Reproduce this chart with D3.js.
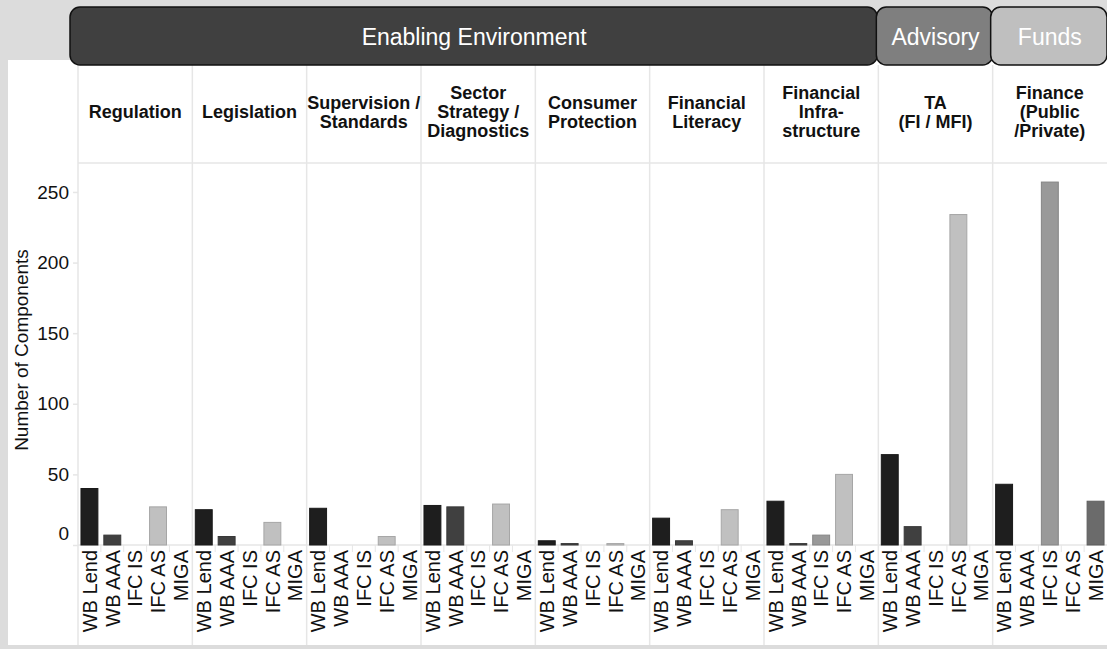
<!DOCTYPE html>
<html>
<head>
<meta charset="utf-8">
<script src="https://cdn.jsdelivr.net/npm/d3@7"></script>
<style>
	body { margin: 0; background: #dcdcdc; }
	svg { display: block; font-family: Arial, "Liberation Sans", sans-serif; }
</style>
</head>
<body>
<div id="chart"></div>
<script>
// Data

var groups = ['Enabling Environment', 'Advisory', 'Funds'];
var groupSpans = [7, 1, 1];
var panels = [
	['Regulation'],
	['Legislation'],
	['Supervision /', 'Standards'],
	['Sector', 'Strategy /', 'Diagnostics'],
	['Consumer', 'Protection'],
	['Financial', 'Literacy'],
	['Financial', 'Infra-', 'structure'],
	['TA', '(FI / MFI)'],
	['Finance', '(Public', '/Private)']
];
var instruments = ['WB Lend', 'WB AAA', 'IFC IS', 'IFC AS', 'MIGA'];
var wbLend = [40, 25, 26, 28, 3, 19, 31, 64, 43];
var wbAAA = [7, 6, 0, 27, 1, 3, 1, 13, 0];
var ifcIS = [0, 0, 0, 0, 0, 0, 7, 0, 257];
var ifcAS = [27, 16, 6, 29, 1, 25, 50, 234, 0];
var miga = [0, 0, 0, 0, 0, 0, 0, 0, 31];
var yTicks = [0, 50, 100, 150, 200, 250];

// Config

var width = 1107, height = 649;
var plotLeft = 78, plotRight = 1107;
var headTop = 65, plotTop = 163, plotBottom = 545, pageBottom = 645;
var groupFills = ['#404040', '#7f7f7f', '#bfbfbf'];
var barFills = ['#1e1e1e', '#404040', '#999999', '#c0c0c0', '#6b6b6b'];
var gridColor = '#e6e6e6';

// Setup

var seriesValues = [wbLend, wbAAA, ifcIS, ifcAS, miga];
var bars = [];
panels.forEach((p, pi) => {
	instruments.forEach((inst, ii) => {
		bars.push({ panel: pi, inst: inst, index: ii, value: seriesValues[ii][pi] });
	});
});

var svg = d3.select('#chart').append('svg')
	.attr('width', width)
	.attr('height', height);

svg.append('rect')
	.attr('x', 8).attr('y', 60)
	.attr('width', width - 8).attr('height', pageBottom - 60)
	.attr('fill', '#fff');

var xPanel = d3.scaleBand()
	.domain(d3.range(panels.length))
	.range([plotLeft, plotRight]);
var xInst = d3.scaleBand()
	.domain(instruments)
	.range([0, xPanel.bandwidth()])
	.paddingInner(0.26)
	.paddingOuter(0.13);
var y = d3.scaleLinear()
	.domain([0, 270.5])
	.range([plotBottom, plotTop]);

// Grid lines

var grid = svg.append('g').attr('stroke', gridColor).attr('stroke-width', 1.5);
grid.selectAll('.vline')
	.data(d3.range(panels.length))
	.enter().append('line')
		.attr('x1', d => xPanel(d)).attr('x2', d => xPanel(d))
		.attr('y1', headTop).attr('y2', pageBottom);
grid.append('line')
	.attr('x1', plotLeft).attr('x2', plotRight)
	.attr('y1', plotTop).attr('y2', plotTop);
grid.append('line')
	.attr('x1', plotLeft).attr('x2', plotRight)
	.attr('y1', y(0)).attr('y2', y(0));

// short dividers between instrument labels
grid.selectAll('.ldiv')
	.data(bars.filter(d => d.index > 0))
	.enter().append('line')
		.attr('stroke-width', 1)
		.attr('x1', d => xPanel(d.panel) + xInst(d.inst) - xInst.step() * xInst.paddingInner() / 2)
		.attr('x2', d => xPanel(d.panel) + xInst(d.inst) - xInst.step() * xInst.paddingInner() / 2)
		.attr('y1', y(0)).attr('y2', y(0) + 7);

// Group header boxes

var groupStarts = groupSpans.map((s, i) => d3.sum(groupSpans.slice(0, i)));
var gHead = svg.append('g');
var heads = gHead.selectAll('.group-head')
	.data(groups)
	.enter().append('g')
		.attr('class', 'group-head');
heads.append('rect')
	.attr('x', (d, i) => xPanel(groupStarts[i]) - (i === 0 ? 8 : 2))
	.attr('y', 7)
	.attr('width', (d, i) => xPanel.step() * groupSpans[i] + (i === 0 ? 7 : 2))
	.attr('height', 58)
	.attr('rx', 10)
	.attr('fill', (d, i) => groupFills[i])
	.attr('stroke', '#111')
	.attr('stroke-width', 1.5);
heads.append('text')
	.attr('x', (d, i) => xPanel(groupStarts[i]) + xPanel.step() * groupSpans[i] / 2 - (i === 0 ? 4 : 0))
	.attr('y', 37)
	.attr('dy', '0.35em')
	.attr('text-anchor', 'middle')
	.attr('fill', '#fff')
	.attr('font-size', 23)
	.text(d => d);

// Panel headers

var pHead = svg.append('g')
	.attr('font-size', 18)
	.attr('font-weight', 'bold')
	.attr('fill', '#111')
	.attr('text-anchor', 'middle');
pHead.selectAll('text')
	.data(panels)
	.enter().append('text')
		.attr('x', (d, i) => xPanel(i) + xPanel.bandwidth() / 2)
		.attr('y', d => 112 - (d.length - 1) * 19 / 2)
		.each(function(lines) {
			d3.select(this).selectAll('tspan')
				.data(lines)
				.enter().append('tspan')
					.attr('x', d3.select(this).attr('x'))
					.attr('dy', (l, li) => li === 0 ? '0.35em' : 19)
					.text(l => l);
		});

// Y axis

var yAxis = svg.append('g')
	.attr('transform', `translate(${plotLeft},0)`)
	.call(d3.axisLeft(y).tickValues(yTicks).tickSize(5).tickPadding(4));
yAxis.select('.domain').remove();
yAxis.selectAll('.tick line').attr('stroke', gridColor).attr('stroke-width', 1.5);
yAxis.selectAll('.tick text')
	.attr('font-size', 19)
	.attr('font-family', 'Arial, "Liberation Sans", sans-serif')
	.attr('fill', '#111')
	.attr('dy', d => d === 0 ? '-0.3em' : '0.32em');

svg.append('text')
	.attr('transform', `translate(28, 350) rotate(-90)`)
	.attr('text-anchor', 'middle')
	.attr('font-size', 19)
	.attr('fill', '#111')
	.text('Number of Components');

// Bars

svg.append('g').selectAll('rect')
	.data(bars)
	.enter().append('rect')
		.attr('x', d => xPanel(d.panel) + xInst(d.inst))
		.attr('y', d => y(d.value))
		.attr('width', xInst.bandwidth())
		.attr('height', d => y(0) - y(d.value))
		.attr('fill', d => barFills[d.index])
		.attr('stroke', d => d3.color(barFills[d.index]).darker(0.4))
		.attr('stroke-width', 1);

// Instrument labels

svg.append('g').selectAll('text')
	.data(bars)
	.enter().append('text')
		.attr('transform', d => `translate(${xPanel(d.panel) + xInst(d.inst) + xInst.bandwidth() / 2}, ${y(0) + 5}) rotate(-90)`)
		.attr('dy', '0.36em')
		.attr('text-anchor', 'end')
		.attr('font-size', 20)
		.attr('fill', '#111')
		.text(d => d.inst);
</script>
</body>
</html>
